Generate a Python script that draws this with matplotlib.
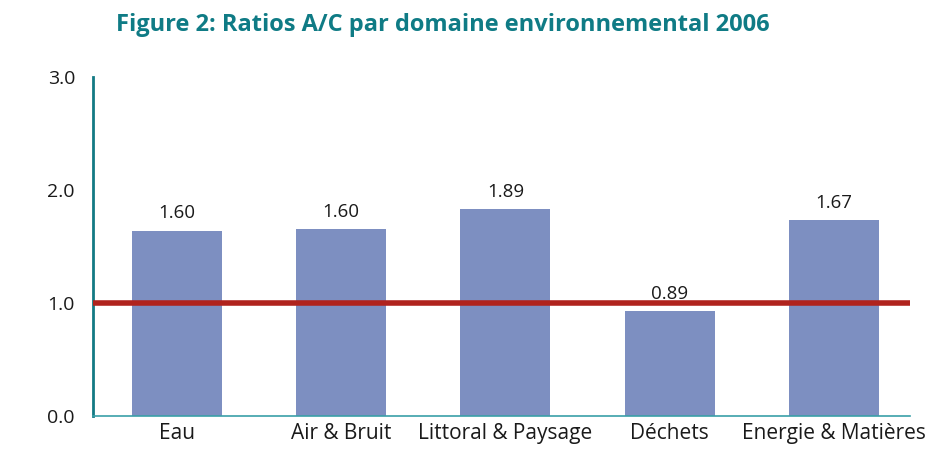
import matplotlib
matplotlib.use("Agg")
import matplotlib.pyplot as plt

categories = ["Eau", "Air & Bruit", "Littoral & Paysage", "Déchets", "Energie & Matières"]
bar_heights = [1.64, 1.655, 1.83, 0.93, 1.735]
value_labels = ["1.60", "1.60", "1.89", "0.89", "1.67"]
reference_level = 1.0
y_ticks = [0.0, 1.0, 2.0, 3.0]
title = "Figure 2: Ratios A/C par domaine environnemental 2006"

plt.rcParams['font.family'] = ['Open Sans', 'DejaVu Sans']

fig = plt.figure(figsize=(9.31, 4.5), dpi=100)
ax = fig.add_axes([93/931, (450-416)/450, (910-93)/931, (416-77)/450])

x = list(range(len(categories)))
bars = ax.bar(x, bar_heights, width=0.548, color="#7d8fc1", zorder=2)
ax.axhline(reference_level, color="#b0231d", linewidth=4, zorder=3)

for xi, h, lab in zip(x, bar_heights, value_labels):
    ax.annotate(lab, (xi, h), xytext=(0, 6), textcoords="offset points",
                ha="center", va="bottom", fontsize=13.5, color="#1a1a1a")

ax.set_xlim(-0.511, 4.463)
ax.set_ylim(0, 3)
ax.set_yticks(y_ticks)
ax.set_yticklabels([f"{v:.1f}" for v in y_ticks])
ax.set_xticks(x)
ax.set_xticklabels(categories)
ax.tick_params(axis="y", length=0, pad=13, labelsize=14, colors="#1a1a1a")
ax.tick_params(axis="x", length=0, pad=5, labelsize=15, colors="#1a1a1a")

for s in ["top", "right"]:
    ax.spines[s].set_visible(False)
ax.spines["left"].set_color("#137a84")
ax.spines["left"].set_linewidth(2)
ax.spines["bottom"].set_color("#3a9fa8")
ax.spines["bottom"].set_linewidth(1.2)

fig.text(443/931, 1 - 25/450, title, ha="center", va="center",
         fontsize=17, fontweight="bold", color="#0f7b85")

fig.savefig("out.png", dpi=100)
